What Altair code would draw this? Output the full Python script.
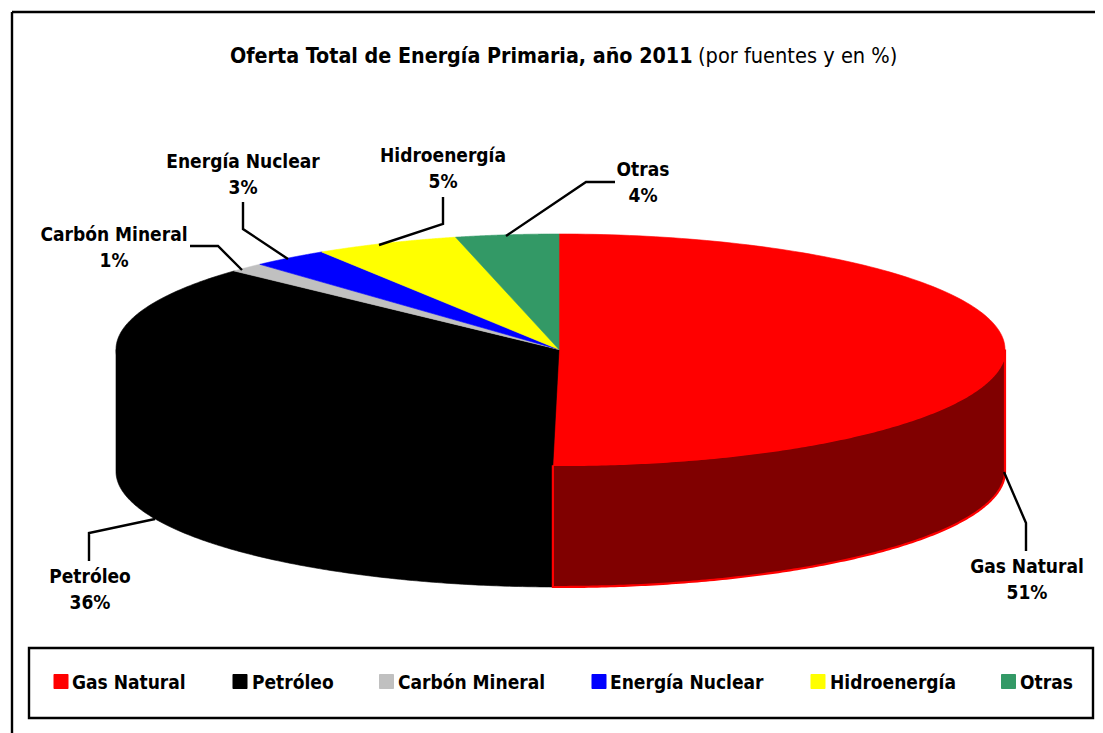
import numpy as np
import pandas as pd
import altair as alt

# Data
categories = ["Gas Natural", "Petróleo", "Carbón Mineral", "Energía Nuclear", "Hidroenergía", "Otras"]
labels_pct = ["51%", "36%", "1%", "3%", "5%", "4%"]
slice_shares = [50.22, 36.68, 1.3, 2.8, 5.25, 3.75]
colors = ["#FF0000", "#000000", "#C0C0C0", "#0000FF", "#FFFF00", "#339966"]

FONT = "DejaVu Sans Condensed"
W, H = 1087, 725
OFF = 8
CX, CY, A_R, A_L, B, DEPTH = 559, 349.5, 446, 443, 115.5, 122

X = alt.X("px:Q", scale=alt.Scale(domain=[OFF, W + OFF], range=[0, W]), axis=None)
Y = alt.Y("py:Q", scale=alt.Scale(domain=[OFF, H + OFF], range=[0, H]), axis=None)


def ell(t, dy=0.0):
    s = np.sin(t)
    return CX + np.where(s > 0, A_R, A_L) * s, CY + dy - B * np.cos(t)


def poly(points, fill, stroke=None, sw=0.6):
    df = pd.DataFrame(points, columns=["px", "py"])
    df["i"] = range(len(df))
    return alt.Chart(df).mark_line(
        fill=fill, stroke=stroke or fill, strokeWidth=sw, interpolate="linear", clip=False
    ).encode(x=X, y=Y, order="i:Q")


def arc_pts(t0, t1, dy=0.0):
    ts = np.linspace(t0, t1, 160)
    return list(zip(*ell(ts, dy)))


edges = np.concatenate([[0], np.cumsum(slice_shares)]) / 100 * 2 * np.pi

layers = []
# walls (front half only)
g_end = edges[1]
left = 3 * np.pi / 2
gas_wall = arc_pts(np.pi / 2, g_end) + arc_pts(g_end, np.pi / 2, DEPTH)
pet_wall = [(CX, CY)] + arc_pts(left, left)[:1] + arc_pts(left, g_end, DEPTH) + arc_pts(g_end, g_end)[:1] + [(CX, CY)]
layers.append(poly(pet_wall, "#000000"))
layers.append(poly(gas_wall + [gas_wall[0]], "#800000", "#FF0000", 2.2))
# top faces
for k, c in enumerate(colors):
    pts = [(CX, CY)] + arc_pts(edges[k], edges[k + 1]) + [(CX, CY)]
    layers.append(poly(pts, c))


def polyline(points):
    df = pd.DataFrame(points, columns=["px", "py"])
    df["i"] = range(len(df))
    return alt.Chart(df).mark_line(color="#000000", strokeWidth=2.4).encode(x=X, y=Y, order="i:Q")


leaders = [
    [(1004, 472), (1026, 523), (1026, 551)],
    [(155, 519), (89, 533), (89, 561)],
    [(190, 246), (218, 246), (242, 270)],
    [(243, 202), (243, 229), (288, 259)],
    [(443, 197), (443, 224), (379, 245)],
    [(615, 182), (586, 182), (506, 236)],
]
for pts in leaders:
    layers.append(polyline(pts))

# data labels
label_pos = [(1027, 567, 593), (90, 577, 603), (114, 235, 261), (243, 162, 188), (443, 156, 182), (643, 170, 196)]
lab_rows = []
for (name, pct, (lx, y1, y2)) in zip(categories, labels_pct, label_pos):
    lab_rows.append({"px": lx, "py": y1, "t": name})
    lab_rows.append({"px": lx, "py": y2, "t": pct})
layers.append(
    alt.Chart(pd.DataFrame(lab_rows))
    .mark_text(font=FONT, fontWeight="bold", fontSize=19, color="#000000", align="center", baseline="middle")
    .encode(x=X, y=Y, text="t:N")
)

# title
layers.append(
    alt.Chart(pd.DataFrame([{"px": 230, "py": 57, "t": "Oferta Total de Energía Primaria, año 2011"}]))
    .mark_text(font=FONT, fontWeight="bold", fontSize=21.3, color="#000000", align="left", baseline="middle")
    .encode(x=X, y=Y, text="t:N")
)
layers.append(
    alt.Chart(pd.DataFrame([{"px": 698, "py": 57, "t": "(por fuentes y en %)"}]))
    .mark_text(font=FONT, fontSize=21.6, color="#000000", align="left", baseline="middle")
    .encode(x=X, y=Y, text="t:N")
)

# frames
frame = pd.DataFrame([
    {"px": 12, "py": 12, "px2": W + OFF, "py2": 12},
    {"px": 12, "py": 12, "px2": 12, "py2": H + OFF},
])
layers.append(alt.Chart(frame).mark_rule(color="#000000", strokeWidth=2.4).encode(x=X, y=Y, x2="px2:Q", y2="py2:Q"))
legend_box = pd.DataFrame([{"px": 29, "py": 648, "px2": 1093, "py2": 718}])
layers.append(
    alt.Chart(legend_box).mark_rect(fill="#FFFFFF", stroke="#000000", strokeWidth=2.4, opacity=1, fillOpacity=0)
    .encode(x=X, y=Y, x2="px2:Q", y2="py2:Q")
)

# legend
swatch_x = [53.5, 232.5, 379, 591.5, 810.5, 1001]
text_x = [72, 252, 398, 610, 830, 1020]
sw = pd.DataFrame({"px": swatch_x, "px2": [s + 15 for s in swatch_x], "py": 674, "py2": 689, "name": categories, "c": colors})
layers.append(
    alt.Chart(sw).mark_rect(cornerRadius=1).encode(x=X, y=Y, x2="px2:Q", y2="py2:Q", fill=alt.Fill("c:N", scale=None))
)
lt = pd.DataFrame({"px": text_x, "py": 683, "t": categories})
layers.append(
    alt.Chart(lt)
    .mark_text(font=FONT, fontWeight="bold", fontSize=19, color="#000000", align="left", baseline="middle")
    .encode(x=X, y=Y, text="t:N")
)

chart = (
    alt.layer(*layers)
    .properties(width=W, height=H, padding=0, autosize=alt.AutoSizeParams(type="none"), background="#FFFFFF")
    .configure_view(stroke=None)
    .resolve_scale(fill="independent")
)
chart.save("out.html", embed_options={"renderer": "svg", "actions": False})
